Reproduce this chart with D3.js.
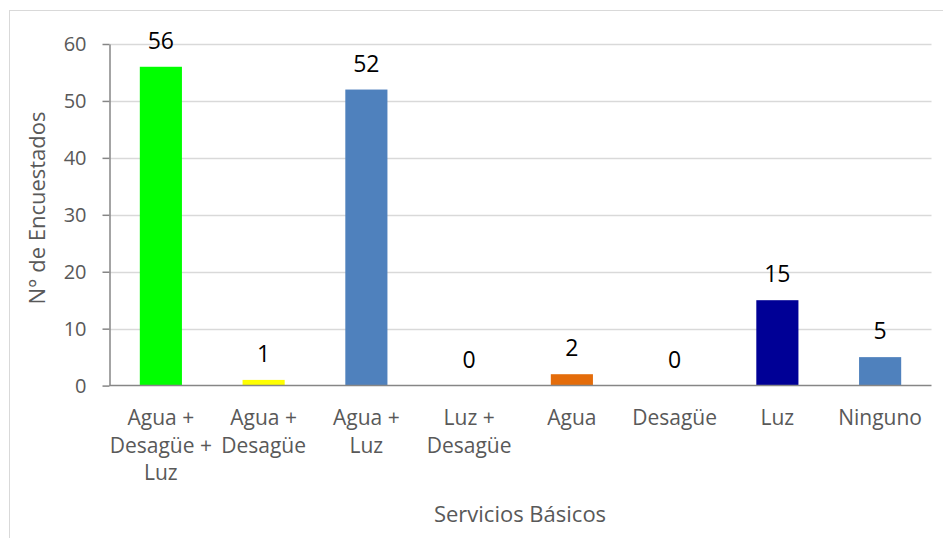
<!DOCTYPE html>
<html><head><meta charset="utf-8">
<script src="https://cdn.jsdelivr.net/npm/d3@7/dist/d3.min.js"></script>
<style>body{margin:0;background:#fff}svg{display:block}text{font-family:"Open Sans",sans-serif}</style>
</head><body><svg id="c" width="943" height="538"></svg>
<script>
const categories = [["Agua +","Desagüe +","Luz"],["Agua +","Desagüe"],["Agua +","Luz"],["Luz +","Desagüe"],["Agua"],["Desagüe"],["Luz"],["Ninguno"]];
const values = [56,1,52,0,2,0,15,5];
const colors = ["#00FF00","#FFFF00","#4F81BD","#4F81BD","#E46C0A","#4F81BD","#000096","#4F81BD"];
const yTicks = [0,10,20,30,40,50,60];
const yTitle = "N° de Encuestados";
const xTitle = "Servicios Básicos";

const svg = d3.select("#c");
svg.append("rect").attr("x",9.5).attr("y",10.5).attr("width",960).attr("height",560)
  .attr("fill","#fff").attr("stroke","#d9d9d9");
const L=109.5, R=931.5, T=44, B=385.6;
const x = d3.scaleBand().domain(d3.range(values.length)).range([L,R]).paddingInner(0.59).paddingOuter(0.295);
const y = d3.scaleLinear().domain([0,60]).range([B,T]);

svg.append("g").selectAll("line").data(yTicks.filter(d=>d>0)).join("line")
  .attr("x1",L).attr("x2",R).attr("y1",d=>Math.round(y(d))+0.5).attr("y2",d=>Math.round(y(d))+0.5)
  .attr("stroke","#d9d9d9").attr("stroke-width",1.5);

svg.append("g").selectAll("rect").data(values).join("rect")
  .attr("x",(d,i)=>x(i)).attr("width",x.bandwidth())
  .attr("y",d=>y(d)).attr("height",d=>B-y(d)).attr("fill",(d,i)=>colors[i]);

const yAxis = svg.append("g").attr("transform",`translate(${L},0)`)
  .call(d3.axisLeft(y).tickValues(yTicks).tickSize(7).tickSizeOuter(0));
yAxis.select(".domain").attr("stroke","#868686").attr("stroke-width",1.5);
yAxis.selectAll(".tick line").attr("stroke","#868686").attr("stroke-width",1.5);
yAxis.selectAll(".tick text").attr("fill","#595959").attr("font-size",20).attr("x",-23)
  .attr("font-family","Open Sans");

svg.append("line").attr("x1",L).attr("x2",R).attr("y1",B).attr("y2",B)
  .attr("stroke","#868686").attr("stroke-width",1.5);

const lab = svg.append("g").selectAll("text").data(categories).join("text")
  .attr("text-anchor","middle").attr("fill","#595959").attr("font-size",21);
lab.each(function(lines,i){
  const t=d3.select(this);
  lines.forEach((s,k)=>t.append("tspan").attr("x",x(i)+x.bandwidth()/2).attr("y",425+k*27.5).text(s));
});

svg.append("g").selectAll("text").data(values).join("text")
  .attr("x",(d,i)=>x(i)+x.bandwidth()/2).attr("y",d=>y(d)-18)
  .attr("text-anchor","middle").attr("font-size",23).attr("fill","#000").text(d=>d);

svg.append("text").attr("transform","translate(45,208) rotate(-90)").attr("text-anchor","middle")
  .attr("font-size",22).attr("fill","#595959").text(yTitle);
svg.append("text").attr("x",520).attr("y",522).attr("text-anchor","middle")
  .attr("font-size",22).attr("fill","#595959").text(xTitle);
</script></body></html>
